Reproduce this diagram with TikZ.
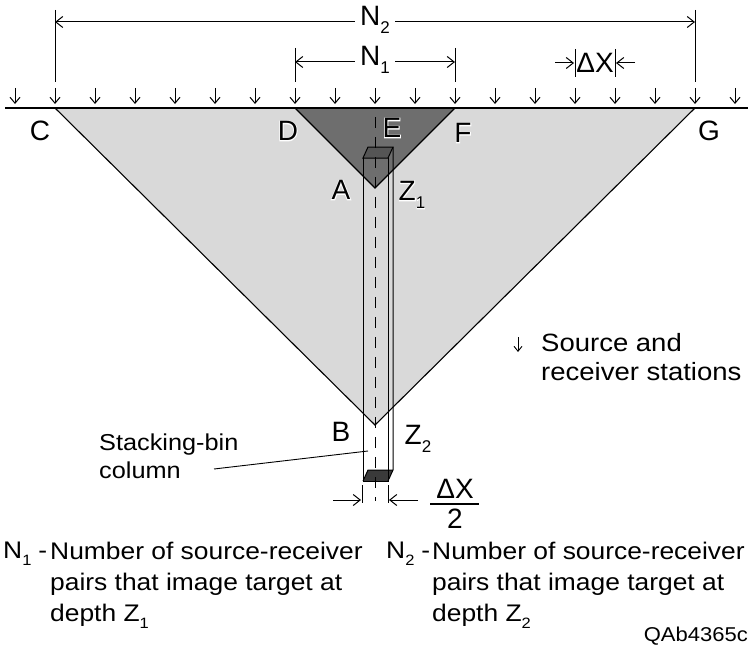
\documentclass[tikz,border=0pt]{standalone}
\usepackage{fontspec}
\setmainfont{Liberation Sans}
\newfontfamily\widefont[FakeStretch=1.1]{Liberation Sans}
\newfontfamily\halofont[FakeBold=6]{Liberation Sans}
\usetikzlibrary{arrows.meta}
\definecolor{lightg}{HTML}{D9D9D9}
\definecolor{darkg}{HTML}{6E6E6E}
\definecolor{topg}{HTML}{555555}
\definecolor{botg}{HTML}{3A3A3A}
\newcommand{\mysub}[1]{\raisebox{-0.3em}{\fontsize{17}{17}\selectfont #1}}
\newcommand{\tsub}[1]{\raisebox{-0.3em}{\fontsize{15}{15}\selectfont #1}}
\newcommand{\halolabel}[3]{%
  \node[lbl,text=white,font=\fontsize{28}{28}\halofont] at (#2) {#3};
  \node[lbl] (#1) at (#2) {#3};}
\begin{document}
\begin{tikzpicture}[x=1pt,y=-1pt,
  lbl/.style={font=\fontsize{28}{28}\selectfont, inner sep=0pt},
  dim/.style={line width=1pt,-{Straight Barb[length=7pt,width=11pt]}},
  ext/.style={line width=1pt},
  sta/.style={line width=1pt,-{Straight Barb[length=6pt,width=10pt]}},
  txt/.style={font=\fontsize{24}{31}\widefont, inner sep=0pt, align=left}]
\useasboundingbox (0,0) rectangle (750,661);
% triangles
\coordinate (C) at (55,108);
\coordinate (G) at (695,108);
\coordinate (Bp) at (375,425);
\coordinate (D) at (295,108);
\coordinate (F) at (455,108);
\coordinate (Ap) at (375,188);
\fill[lightg] (C) -- (G) -- (Bp) -- cycle;
\draw[line width=1.1pt] (C) -- (Bp) -- (G);
\fill[darkg] (D) -- (F) -- (Ap) -- cycle;
\draw[line width=1.1pt] (D) -- (Ap) -- (F);
% surface
\coordinate (sL) at (5,108);
\coordinate (sR) at (748,108);
\draw[line width=1.1pt] (sL) -- (sR);
% stations
\foreach \k in {0,...,18}{
  \coordinate (st\k) at ({15+40*\k},88);
  \coordinate (sb\k) at ({15+40*\k},104);
  \draw[sta] (st\k) -- (sb\k);
}
% column
\coordinate (c1) at (363,158);
\coordinate (c2) at (388,158);
\coordinate (c3) at (393,147);
\coordinate (c4) at (368,147);
\coordinate (c5) at (363,481);
\coordinate (c6) at (388,481);
\coordinate (c7) at (393,470);
\coordinate (c8) at (368,470);
\fill[topg] (c1) -- (c2) -- (c3) -- (c4) -- cycle;
\fill[botg] (c5) -- (c6) -- (c7) -- (c8) -- cycle;
\draw[line width=1pt] (c1) -- (c2) -- (c3) -- (c4) -- cycle;
\draw[line width=1pt] (c1) -- (c5) -- (c6) -- (c2);
\draw[line width=1pt] (c3) -- (c7) -- (c6);
\draw[line width=1pt] (c5) -- (c8) -- (c7);
% center dashed line
\coordinate (dtop) at (375,117);
\coordinate (dbot) at (375,501);
\draw[line width=1pt, dash pattern=on 11pt off 9pt] (dtop) -- (dbot);
% N2 dimension
\node[lbl, fill=white, inner xsep=5pt] (n2) at (375,20) {N\mysub{2}};
\coordinate (n2a) at (55,10); \coordinate (n2b) at (55,82);
\coordinate (n2c) at (695,10); \coordinate (n2d) at (695,82);
\draw[ext] (n2a) -- (n2b); \draw[ext] (n2c) -- (n2d);
\coordinate (n2l) at (55,22); \coordinate (n2r) at (695,22);
\draw[dim] (n2.west |- n2l) -- (n2l);
\draw[dim] (n2.east |- n2r) -- (n2r);
% N1 dimension
\node[lbl, fill=white, inner xsep=5pt] (n1) at (375,60) {N\mysub{1}};
\coordinate (n1a) at (295,48); \coordinate (n1b) at (295,82);
\coordinate (n1c) at (455,48); \coordinate (n1d) at (455,82);
\draw[ext] (n1a) -- (n1b); \draw[ext] (n1c) -- (n1d);
\coordinate (n1l) at (295,62); \coordinate (n1r) at (455,62);
\draw[dim] (n1.west |- n1l) -- (n1l);
\draw[dim] (n1.east |- n1r) -- (n1r);
% Delta X
\node[lbl] (dx) at (595,63) {ΔX};
\coordinate (dxa) at (575,49); \coordinate (dxb) at (575,77);
\coordinate (dxc) at (615,49); \coordinate (dxd) at (615,77);
\draw[ext] (dxa) -- (dxb); \draw[ext] (dxc) -- (dxd);
\coordinate (dxl0) at (555,63); \coordinate (dxl1) at (574,63);
\coordinate (dxr0) at (635,63); \coordinate (dxr1) at (616,63);
\draw[dim] (dxl0) -- (dxl1);
\draw[dim] (dxr0) -- (dxr1);
% point labels
\node[lbl] (lC) at (40,131) {C};
\node[lbl] (lG) at (709,131) {G};
\halolabel{lD}{288,131}{D}
\halolabel{lE}{392,128}{E}
\halolabel{lF}{463,133}{F}
\halolabel{lA}{341,190}{A}
\halolabel{lZ1}{412,195}{Z\mysub{1}}
\node[lbl] (lB) at (341,432) {B};
\node[lbl] (lZ2) at (418,439) {Z\mysub{2}};
% bottom width dimension
\coordinate (wa) at (362,485); \coordinate (wb) at (362,503);
\coordinate (wc) at (388,485); \coordinate (wd) at (388,503);
\draw[ext] (wa) -- (wb); \draw[ext] (wc) -- (wd);
\coordinate (wl0) at (333,500); \coordinate (wl1) at (361,500);
\coordinate (wr0) at (418,500); \coordinate (wr1) at (389,500);
\draw[dim] (wl0) -- (wl1);
\draw[dim] (wr0) -- (wr1);
\node[lbl] (halfnum) at (455,489) {ΔX};
\node[lbl] (halfden) at (455,519) {2};
\coordinate (fb0) at (430,504); \coordinate (fb1) at (479,504);
\draw[line width=1.1pt] (fb0) -- (fb1);
% stacking-bin label
\node[txt, anchor=west, font=\fontsize{23}{28}\widefont] (sbin) at (99,456) {Stacking-bin\\column};
\coordinate (sbinend) at (368,451);
\coordinate (sbinstart) at (214,469);
\draw[line width=0.9pt] (sbinstart) -- (sbinend);
% legend
\coordinate (lg0) at (518,337); \coordinate (lg1) at (518,352);
\draw[line width=0.9pt,-{Straight Barb[length=5pt,width=8pt]}] (lg0) -- (lg1);
\node[txt, anchor=west, font=\fontsize{25}{29}\widefont] (leg) at (541,357) {Source and\\receiver stations};
% bottom text
\node[txt, anchor=north west] (b1a) at (3,542) {N\tsub{1}\hspace{7pt}-};
\node[txt, anchor=north west] (b1b) at (50,542) {Number of source-receiver\\pairs that image target at\\depth Z\tsub{1}};
\node[txt, anchor=north west] (b2a) at (386,542) {N\tsub{2}\hspace{7pt}-};
\node[txt, anchor=north west] (b2b) at (432,542) {Number of source-receiver\\pairs that image target at\\depth Z\tsub{2}};
\node[font=\fontsize{20}{20}\widefont, inner sep=0pt, anchor=east] (qa) at (748,636) {QAb4365c};
\end{tikzpicture}
\end{document}
